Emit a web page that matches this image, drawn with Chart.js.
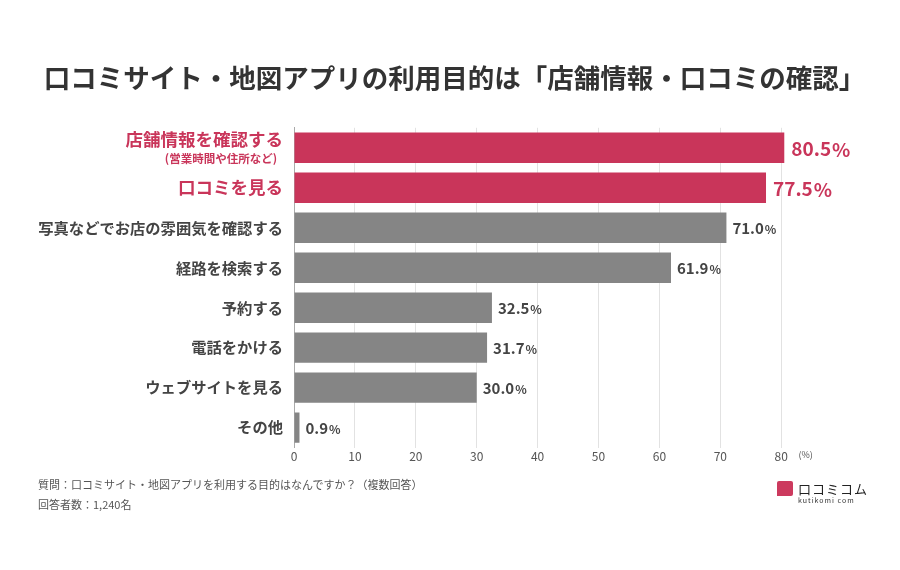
<!DOCTYPE html>
<html lang="ja">
<head>
<meta charset="utf-8">
<script src="https://cdn.jsdelivr.net/npm/chart.js@4"></script>
<style>
  body { margin: 0; background: #fff; font-family: "Noto Sans CJK JP", sans-serif; }
  #wrap { position: relative; width: 900px; height: 570px; }
  #note { position: absolute; left: 38px; top: 474px; font-size: 11px; line-height: 20px; color: #555; }
  #logo { position: absolute; left: 777px; top: 479px; }
  #logo .mark { position: absolute; left: 0; top: 2px; width: 16px; height: 15px; background: #cc3a5e; border-radius: 2px 2px 2px 0; }
  #logo .name { position: absolute; left: 21px; top: 0; font-size: 13px; color: #222; white-space: nowrap; letter-spacing: 1px; }
  #logo .url { position: absolute; left: 21px; top: 16px; font-size: 7px; color: #333; white-space: nowrap; letter-spacing: 1px; }
</style>
</head>
<body>
<div id="wrap">
  <canvas id="myChart" width="900" height="570"></canvas>
  <div id="note">質問：口コミサイト・地図アプリを利用する目的はなんですか？（複数回答）<br>回答者数：1,240名</div>
  <div id="logo"><div class="mark"></div><div class="name">口コミコム</div><div class="url">kutikomi com</div></div>
</div>
<script>
// Data
const categories = [
  "店舗情報を確認する",
  "口コミを見る",
  "写真などでお店の雰囲気を確認する",
  "経路を検索する",
  "予約する",
  "電話をかける",
  "ウェブサイトを見る",
  "その他"
];
const subLabels = ["(営業時間や住所など)", "", "", "", "", "", "", ""];
const values = [80.5, 77.5, 71.0, 61.9, 32.5, 31.7, 30.0, 0.9];
const highlighted = [true, true, false, false, false, false, false, false];
const tickValues = [0, 10, 20, 30, 40, 50, 60, 70, 80];
const unitLabel = "(%)";

const RED = "#c9355a";
const GRAY = "#858585";
const TEXT = "#444";
const FONT = "'Noto Sans CJK JP', sans-serif";

// draws category names left of the axis and the value labels after each bar
const labelPlugin = {
  id: "labels",
  afterDatasetsDraw(chart) {
    const ctx = chart.ctx;
    const x = chart.scales.x;
    const y = chart.scales.y;
    ctx.save();
    categories.forEach((cat, i) => {
      const cy = y.getPixelForValue(i);
      const hl = highlighted[i];
      const right = chart.chartArea.left - 11;
      ctx.textAlign = "right";
      ctx.textBaseline = "middle";
      ctx.fillStyle = hl ? RED : TEXT;
      if (subLabels[i]) {
        ctx.font = "bold 17.5px " + FONT;
        ctx.fillText(cat, right, cy - 8);
        ctx.font = "bold 11.5px " + FONT;
        ctx.fillText(subLabels[i], right - 6, cy + 11);
      } else {
        ctx.font = (hl ? "bold 17.5px " : "bold 15.3px ") + FONT;
        ctx.fillText(cat, right, cy);
      }

      // value label
      const num = values[i].toFixed(1);
      const bx = x.getPixelForValue(values[i]) + (hl ? 7 : 6);
      ctx.textAlign = "left";
      ctx.fillStyle = hl ? RED : TEXT;
      ctx.font = (hl ? "bold 19px " : "bold 15px ") + FONT;
      ctx.fillText(num, bx, cy + 1);
      const w = ctx.measureText(num).width;
      ctx.font = (hl ? "bold 19px " : "bold 12px ") + FONT;
      ctx.fillText("%", bx + w + 1, cy + 2);
    });
    ctx.restore();
  }
};

const ctx = document.getElementById("myChart").getContext("2d");
new Chart(ctx, {
  type: "bar",
  data: {
    labels: categories,
    datasets: [{
      data: values,
      backgroundColor: highlighted.map((h) => (h ? RED : GRAY)),
      barPercentage: 0.76,
      categoryPercentage: 1.0,
    }]
  },
  plugins: [labelPlugin],
  options: {
    indexAxis: "y",
    responsive: false,
    animation: false,
    layout: { padding: { top: 62, left: 9, right: 0, bottom: 104 } },
    plugins: {
      legend: { display: false },
      tooltip: { enabled: false },
      title: {
        display: true,
        text: "口コミサイト・地図アプリの利用目的は「店舗情報・口コミの確認」",
        color: "#333",
        font: { family: FONT, size: 26.5, weight: "bold" },
        padding: { top: 0, bottom: 34 }
      }
    },
    scales: {
      x: {
        min: 0,
        max: 99.5,
        afterBuildTicks(scale) {
          scale.ticks = tickValues.concat([84]).map((v) => ({ value: v }));
        },
        grid: {
          color: (c) => (c.tick && c.tick.value > 80 ? "rgba(0,0,0,0)" : "#e2e2e2"),
          drawTicks: false,
        },
        border: { display: false },
        ticks: {
          padding: 2,
          color: "#555",
          font: (c) => ({ family: FONT, size: c.tick && c.tick.value > 80 ? 9 : 12 }),
          callback: (v) => (v > 80 ? unitLabel : v),
        }
      },
      y: {
        afterFit(scale) {
          scale.width = 285;
        },
        grid: { display: false },
        border: { display: true, color: "#aaa" },
        ticks: { display: false }
      }
    }
  }
});
</script>
</body>
</html>
